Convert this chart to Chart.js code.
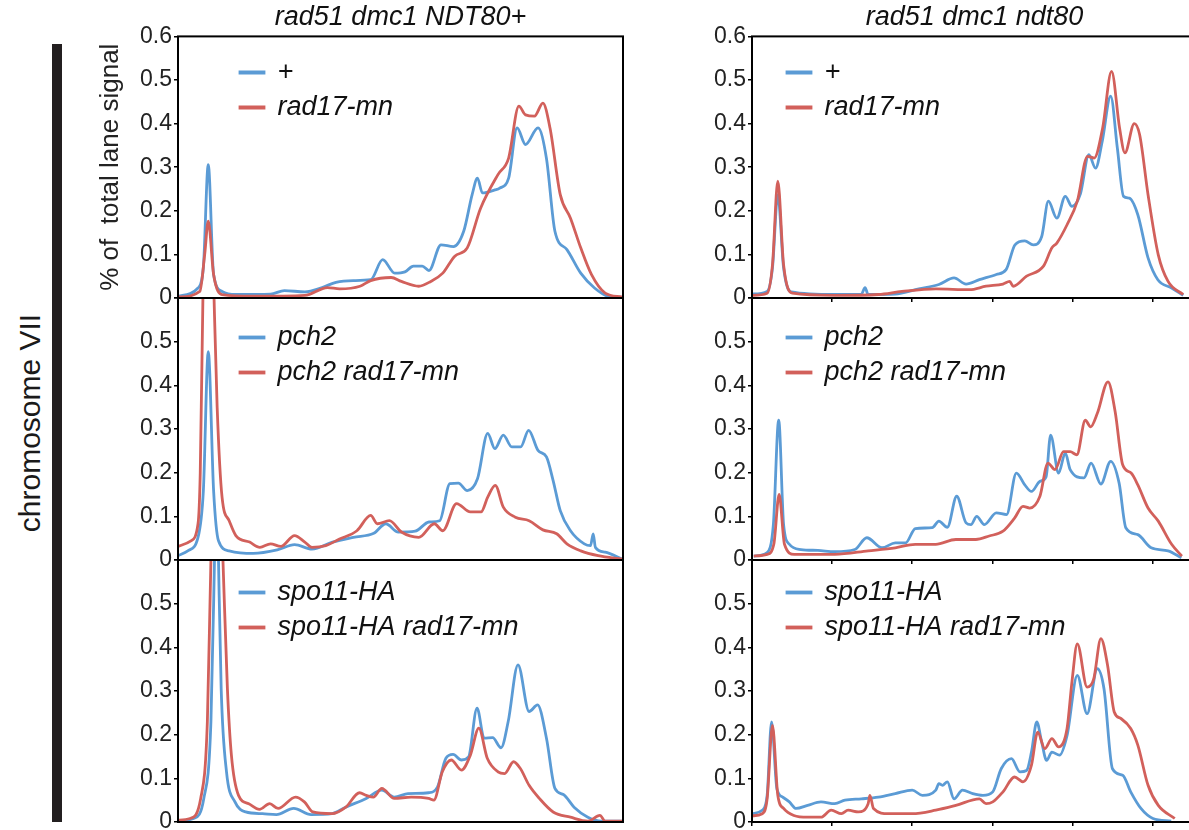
<!DOCTYPE html>
<html>
<head>
<meta charset="utf-8">
<script src="https://cdn.jsdelivr.net/npm/chart.js@4.4.0/dist/chart.umd.min.js"></script>
<style>
  body { margin: 0; width: 1189px; height: 830px; overflow: hidden; background: #fff; position: relative;
         font-family: "Liberation Sans", Arial, sans-serif; }
  canvas { position: absolute; }
  #bar { position: absolute; left: 52px; top: 44px; width: 10px; height: 778px; background: #231f20; }
  #chrom { position: absolute; left: 30px; top: 423px; transform: translate(-50%, -50%) rotate(-90deg);
           font-size: 30px; color: #1a1a1a; white-space: nowrap; }
</style>
</head>
<body>
<div id="bar"></div>
<div id="chrom">chromosome VII</div>
<canvas id="c00" width="531" height="314" style="left:94px;top:0px"></canvas>
<canvas id="c10" width="531" height="294" style="left:94px;top:282px"></canvas>
<canvas id="c20" width="531" height="294" style="left:94px;top:544px"></canvas>
<canvas id="c01" width="507" height="314" style="left:692px;top:0px"></canvas>
<canvas id="c11" width="507" height="294" style="left:692px;top:282px"></canvas>
<canvas id="c21" width="507" height="294" style="left:692px;top:544px"></canvas>
<script>
// column titles and legend names
const columnTitles = ['rad51 dmc1 NDT80+', 'rad51 dmc1 ndt80'];
const namesTop = ['+', 'rad17-mn'];
const namesMid = ['pch2', 'pch2 rad17-mn'];
const namesBot = ['spo11-HA', 'spo11-HA rad17-mn'];

// y axis ticks (% of total lane signal), x = position along lane (0-100)
const yMin = 0, yMax = 0.6, yStep = 0.1;
const xMin = 0, xMax = 100, xTickStep = 18;

// [position, signal] -- NDT80+ column
const ndtPlusWt = [[0,0.004],[4.5,0.023],[5.7,0.07],[6.8,0.306],[8.0,0.054],[9.9,0.015],[13,0.008],[20.8,0.009],[23.9,0.017],[28.5,0.014],[32.4,0.024],[35.5,0.036],[39.4,0.04],[43.3,0.042],[46,0.088],[48.7,0.057],[51,0.06],[52.9,0.073],[54.9,0.073],[56.4,0.063],[59.1,0.122],[61.9,0.118],[64.2,0.153],[66.1,0.237],[67.3,0.275],[68.4,0.241],[71.2,0.248],[72.3,0.252],[74.3,0.275],[76.2,0.39],[78.1,0.352],[80.9,0.39],[82.8,0.32],[84.7,0.153],[87.4,0.111],[90.5,0.057],[93.6,0.023],[96.7,0.004],[99.8,0.002]];
const ndtPlusRad17 = [[0,0.002],[4.9,0.015],[6.0,0.1],[6.8,0.176],[8.0,0.054],[9.9,0.008],[16.9,0.004],[28.5,0.006],[33.6,0.024],[36.3,0.021],[40.9,0.027],[43.3,0.04],[47.9,0.047],[50.2,0.038],[54.1,0.027],[56.8,0.038],[59.5,0.057],[62.2,0.096],[65,0.115],[68,0.206],[71.9,0.283],[74.3,0.321],[76.6,0.44],[78.1,0.42],[80.1,0.417],[82,0.447],[83.6,0.39],[85.9,0.237],[88.2,0.183],[90.5,0.115],[92.9,0.054],[96,0.011],[99.8,0.002]];
const ndtPlusPch2 = [[0,0.01],[2.2,0.021],[4.5,0.052],[5.7,0.159],[6.8,0.477],[8,0.159],[9.1,0.044],[11.5,0.021],[16.9,0.015],[22.3,0.023],[26.2,0.035],[30.1,0.025],[34.7,0.041],[39.4,0.052],[44,0.061],[46.7,0.083],[49.5,0.064],[53.3,0.066],[56.4,0.087],[58.8,0.09],[61.1,0.175],[63,0.176],[65,0.159],[67.3,0.186],[69.6,0.29],[71.2,0.255],[73.1,0.286],[75,0.259],[77,0.259],[78.8,0.297],[80.9,0.251],[82.8,0.236],[84.3,0.182],[85.9,0.113],[88.2,0.067],[91.3,0.037],[92.7,0.033],[93.3,0.06],[93.8,0.029],[96,0.018],[99.8,0.002]];
const ndtPlusPch2Rad17 = [[0,0.031],[2.9,0.044],[4.5,0.083],[5.0,0.2],[5.6,0.6],[6.9,1.1],[8.1,0.6],[8.8,0.35],[9.9,0.144],[11.5,0.09],[13,0.056],[16.1,0.041],[18.4,0.029],[20.8,0.037],[23.1,0.031],[26.2,0.056],[28.5,0.041],[30.1,0.029],[33.2,0.033],[36.3,0.048],[40.2,0.067],[43.3,0.102],[44.8,0.083],[47.5,0.09],[50.2,0.064],[54.1,0.052],[57.6,0.083],[59.5,0.067],[62.6,0.129],[65.7,0.11],[68.1,0.11],[69.6,0.144],[71.3,0.171],[73.1,0.121],[75.8,0.098],[78.9,0.09],[82,0.069],[85.1,0.06],[87.4,0.037],[90.5,0.021],[94.4,0.01],[99.8,0.002]];
const ndtPlusSpo11 = [[0,0.002],[3.5,0.008],[5.8,0.054],[7.4,0.23],[8.2,0.6],[8.65,0.85],[9.1,0.6],[9.7,0.306],[10.9,0.115],[12.8,0.046],[15.2,0.023],[19,0.019],[22.1,0.017],[26,0.031],[29.9,0.017],[34.6,0.019],[37.7,0.034],[42.3,0.054],[45.8,0.073],[48.6,0.057],[51.7,0.065],[56.3,0.067],[58.3,0.08],[60.2,0.146],[61.8,0.155],[63.7,0.142],[65.3,0.149],[67.2,0.261],[68.8,0.192],[70.7,0.193],[72.6,0.17],[74.2,0.23],[76.4,0.36],[78.9,0.253],[80.8,0.268],[82.8,0.192],[84.7,0.077],[86.6,0.063],[89,0.034],[92.1,0.011],[95.2,0.002],[99.8,0.002]];
const ndtPlusSpo11Rad17 = [[0,0.004],[2.7,0.008],[5.1,0.054],[6.6,0.23],[7.4,0.6],[8.7,1.0],[10.1,0.6],[11.1,0.306],[12,0.153],[13.6,0.061],[15.9,0.042],[18.3,0.029],[20.6,0.042],[22.5,0.031],[26.4,0.057],[28.4,0.046],[30.3,0.023],[34.6,0.019],[37.7,0.034],[40.8,0.067],[42.3,0.061],[43.9,0.057],[45.8,0.077],[48.6,0.054],[52.4,0.057],[56.3,0.054],[57.5,0.05],[59.4,0.115],[61.4,0.142],[63.7,0.119],[65.7,0.153],[67.6,0.215],[69.5,0.146],[71.9,0.115],[73.4,0.111],[75.4,0.138],[76.9,0.123],[78.9,0.084],[81.2,0.054],[84.3,0.023],[88.2,0.011],[92.1,0.002],[94.8,0.015],[96,0.002],[99.8,0.002]];

// [position, signal] -- ndt80 column
const ndt80Wt = [[0,0.009],[3.4,0.015],[4.6,0.069],[5.8,0.237],[7.1,0.069],[8.8,0.014],[18.6,0.008],[24.6,0.009],[25.4,0.024],[26.1,0.008],[32.1,0.009],[37.5,0.021],[42,0.031],[45.4,0.046],[48.1,0.032],[51.1,0.042],[54.9,0.054],[57.1,0.065],[59.1,0.122],[61.3,0.131],[63.2,0.122],[65.1,0.141],[66.6,0.222],[68.5,0.183],[70.4,0.233],[71.9,0.21],[73.8,0.239],[75.7,0.329],[77.2,0.298],[78.7,0.359],[80.6,0.463],[82.1,0.344],[83.5,0.233],[84.8,0.229],[86.7,0.191],[89,0.092],[91.2,0.042],[94.3,0.023],[96.9,0.006]];
const ndt80Rad17 = [[0,0.006],[3.4,0.011],[4.6,0.076],[5.8,0.268],[7.1,0.076],[9.1,0.011],[18.6,0.006],[28.4,0.008],[33.7,0.015],[41.3,0.021],[48.9,0.019],[52.6,0.027],[56.4,0.032],[57.9,0.038],[58.7,0.027],[61.7,0.05],[65.5,0.073],[67.4,0.115],[68.5,0.126],[70.8,0.168],[73.1,0.222],[75.4,0.325],[76.9,0.321],[78.8,0.39],[80.8,0.52],[82.6,0.39],[83.8,0.333],[85.9,0.4],[87.1,0.375],[89,0.237],[91.3,0.099],[93.5,0.038],[96.9,0.008]];
const ndt80Pch2 = [[0.4,0.009],[3.4,0.017],[4.8,0.081],[6,0.32],[7.1,0.081],[8.4,0.036],[11,0.024],[14.8,0.022],[18.6,0.019],[23.1,0.024],[25.8,0.051],[29.2,0.028],[32.2,0.039],[34.5,0.039],[36.7,0.072],[40.5,0.074],[42,0.089],[43.9,0.075],[46,0.146],[48.1,0.085],[49.2,0.081],[50.5,0.1],[52.2,0.081],[54.9,0.108],[57.2,0.104],[59.4,0.199],[61.3,0.172],[62.8,0.157],[64.7,0.18],[66.1,0.191],[67.1,0.286],[68.9,0.199],[70.4,0.245],[71.5,0.207],[74.6,0.188],[76.2,0.222],[78.4,0.174],[80.6,0.226],[82.5,0.176],[84,0.074],[86.7,0.058],[89.7,0.028],[93.5,0.021],[96.5,0.005]];
const ndt80Pch2Rad17 = [[0.4,0.009],[3.4,0.013],[4.9,0.036],[6.1,0.15],[7.3,0.036],[9.5,0.013],[18.6,0.013],[26.1,0.021],[32.2,0.028],[36.7,0.036],[41.3,0.036],[45.8,0.047],[50.3,0.047],[53.3,0.055],[56.4,0.066],[59,0.096],[60.9,0.123],[62.4,0.119],[64.7,0.146],[66.5,0.222],[68.1,0.207],[70,0.248],[71.5,0.248],[73,0.241],[74.9,0.32],[76.1,0.305],[77.6,0.336],[80,0.408],[81.6,0.34],[83.3,0.218],[85.2,0.199],[86.7,0.172],[89,0.119],[91.3,0.089],[94.3,0.036],[96.6,0.009]];
const ndt80Spo11 = [[0,0.019],[2.3,0.027],[3.4,0.061],[4.4,0.229],[5.6,0.076],[6.9,0.057],[8.4,0.046],[9.9,0.031],[12.5,0.038],[15.5,0.046],[18.6,0.042],[20.9,0.05],[24.6,0.053],[28.4,0.057],[32.2,0.065],[36,0.073],[38.3,0.061],[41.3,0.073],[42,0.088],[42.8,0.084],[43.9,0.092],[45.4,0.053],[47.3,0.073],[49.6,0.065],[51.9,0.061],[54.1,0.069],[56,0.122],[58.3,0.145],[60.2,0.115],[61.7,0.118],[62.8,0.16],[64,0.229],[65.1,0.183],[66.2,0.141],[67.4,0.16],[69.1,0.153],[70.8,0.198],[73.1,0.336],[75.3,0.248],[77.6,0.351],[79.1,0.305],[81,0.122],[83.3,0.107],[85.1,0.069],[87.4,0.031],[90.1,0.008],[94.2,0.002]];
const ndt80Spo11Rad17 = [[0,0.014],[2.3,0.019],[3.4,0.053],[4.6,0.221],[5.8,0.061],[7.1,0.031],[9.4,0.015],[12.5,0.011],[15.5,0.011],[17.8,0.027],[20.1,0.019],[21.6,0.027],[23.9,0.023],[26.1,0.042],[26.5,0.061],[27.3,0.031],[30.7,0.019],[36,0.019],[41.3,0.027],[45.8,0.038],[51.1,0.053],[52.6,0.042],[54.1,0.046],[56.4,0.069],[59,0.103],[60.9,0.092],[62.8,0.13],[64.2,0.206],[65.8,0.168],[67.4,0.191],[68.9,0.172],[70.8,0.214],[71.9,0.321],[73.1,0.408],[75.3,0.309],[76.8,0.328],[78.4,0.42],[79.9,0.359],[81.4,0.252],[82.9,0.237],[85.1,0.214],[86.7,0.176],[89,0.084],[91.3,0.038],[95,0.008]];

const BLUE = '#5b9bd5';
const RED = '#d2605b';

Chart.defaults.font.family = "'Liberation Sans', Arial, sans-serif";
Chart.defaults.color = '#222';

// box around each plot area
const framePlugin = {
  id: 'frame',
  afterDatasetsDraw(chart) {
    const { ctx, chartArea: a } = chart;
    ctx.save();
    ctx.strokeStyle = '#000';
    ctx.lineWidth = 2;
    ctx.strokeRect(a.left, a.top, a.right - a.left, a.bottom - a.top);
    ctx.restore();
  }
};

// move the in-plot legend a bit away from the corner
const legendNudge = {
  id: 'legendNudge',
  afterLayout(chart, args, opts) {
    const lg = chart.legend;
    if (!lg) return;
    lg.left += opts.dx; lg.right += opts.dx;
    lg.top += opts.dy; lg.bottom += opts.dy;
  }
};

function makePanel(id, col, row, blue, red, names) {
  const ctx = document.getElementById(id).getContext('2d');
  return new Chart(ctx, {
    type: 'line',
    data: {
      datasets: [
        { label: names[0], data: blue, borderColor: BLUE, backgroundColor: BLUE, borderWidth: 2.8,
          pointRadius: 0, cubicInterpolationMode: 'monotone', order: 1 },
        { label: names[1], data: red, borderColor: RED, backgroundColor: RED, borderWidth: 2.8,
          pointRadius: 0, cubicInterpolationMode: 'monotone', order: 0 }
      ]
    },
    options: {
      responsive: false,
      animation: false,
      events: [],
      layout: { padding: { top: row === 0 ? 0 : 16, bottom: 16, right: 2, left: 0 } },
      scales: {
        x: {
          type: 'linear', min: xMin, max: xMax,
          afterFit: s => { s.height = 0; },
          ticks: { display: false, stepSize: xTickStep },
          grid: { display: col === 1, drawOnChartArea: false, tickLength: 4, color: '#000', lineWidth: 1.5 },
          border: { display: false }
        },
        y: {
          min: yMin, max: yMax,
          afterFit: s => { s.width = col === 0 ? 84 : 60; },
          ticks: {
            stepSize: yStep, padding: 2, color: '#222', font: { size: 23 },
            callback: v => (row > 0 && v > yMax - yStep / 2) ? '' : String(+v.toFixed(1))
          },
          grid: { drawOnChartArea: false, tickLength: 4, color: '#000', lineWidth: 1.5 },
          border: { display: false },
          title: {
            display: col === 0 && row === 0,
            text: '% of  total lane signal',
            color: '#222', font: { size: 26 }, padding: { top: 1, bottom: 0 }
          }
        }
      },
      plugins: {
        tooltip: { enabled: false },
        title: {
          display: row === 0, text: columnTitles[col], fullSize: false, color: '#111',
          font: { size: 27, style: 'italic', weight: 'normal' }, padding: { top: 1, bottom: 3 }
        },
        legend: {
          position: 'chartArea', align: 'start',
          labels: {
            boxWidth: 24, boxHeight: 1, padding: 8, color: '#111',
            font: { size: 27, style: 'italic' },
            sort: (a, b) => a.datasetIndex - b.datasetIndex
          }
        },
        legendNudge: { dx: col === 0 ? 54 : 27, dy: [51, 34, 27][row] }
      }
    },
    plugins: [framePlugin, legendNudge]
  });
}

makePanel('c00', 0, 0, ndtPlusWt, ndtPlusRad17, namesTop);
makePanel('c10', 0, 1, ndtPlusPch2, ndtPlusPch2Rad17, namesMid);
makePanel('c20', 0, 2, ndtPlusSpo11, ndtPlusSpo11Rad17, namesBot);
makePanel('c01', 1, 0, ndt80Wt, ndt80Rad17, namesTop);
makePanel('c11', 1, 1, ndt80Pch2, ndt80Pch2Rad17, namesMid);
makePanel('c21', 1, 2, ndt80Spo11, ndt80Spo11Rad17, namesBot);
</script>
</body>
</html>
